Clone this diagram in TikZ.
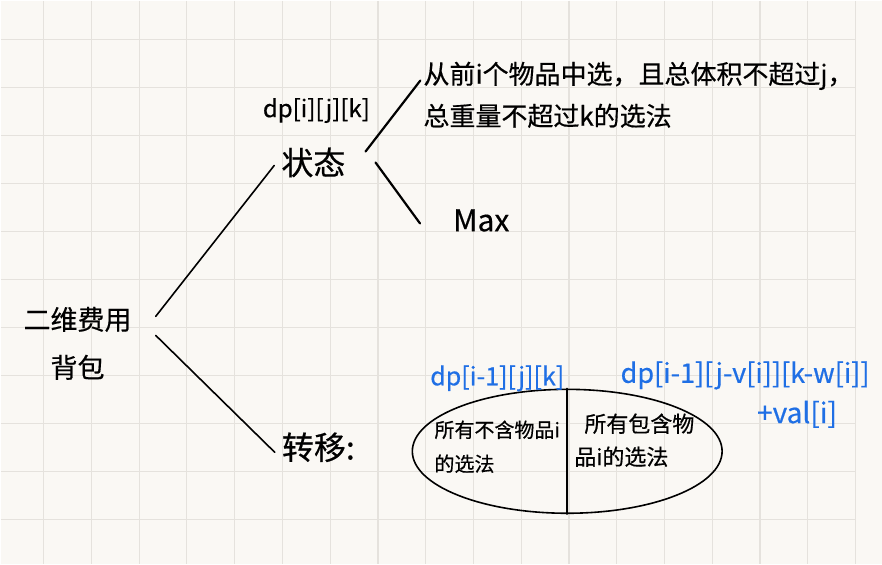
\documentclass[tikz,border=0pt]{standalone}
\usepackage{fontspec}
\usepackage{xcolor}
\newfontfamily\hand{Noto Sans CJK SC}[FakeBold=0.5]
\definecolor{paper}{HTML}{FAF8F4}
\definecolor{gridline}{HTML}{E5E2DD}
\definecolor{inkblue}{HTML}{1F6FE5}
\usetikzlibrary{calc,shapes.geometric}

\begin{document}
\begin{tikzpicture}[x=1pt,y=-1pt,
    ink/.style={line width=1.6pt,line cap=round},
    txt/.style={font=\hand,inner sep=2pt},
    note/.style={txt,text=inkblue}]

    % Paper
    \fill[paper] (0,0) rectangle (882,564);
    \foreach \i in {0,...,17}
      \draw[gridline,line width=1.2pt] ({43+47.8*\i},0) -- ({43+47.8*\i},564);
    \foreach \j in {0,...,10}
      \draw[gridline,line width=1.2pt] (0,{39+48*\j}) -- (855,{39+48*\j});

    % Root
    \node[txt,align=center,font=\hand\fontsize{27}{48}\selectfont] (root) at (77,343) {二维费用\\背包};

    % State
    \node[txt,font=\hand\fontsize{32}{36}\selectfont] (state) at (313,162) {状态};
    \node[txt,font=\hand\fontsize{24}{28}\selectfont] (dps) at (316,110) {dp[i][j][k]};
    \node[txt,align=left,anchor=north west,font=\hand\fontsize{26}{42}\selectfont] (desc) at (421,59)
      {从前i个物品中选，且总体积不超过j，\\总重量不超过k的选法};
    \node[txt,font=\hand\fontsize{30}{34}\selectfont] (max) at (481,220) {Max};

    % Transition
    \node[txt,font=\hand\fontsize{32}{36}\selectfont] (trans) at (318,447) {转移:};

    % Split of the choices
    \node[draw,ellipse,line width=1.6pt,minimum width=310pt,minimum height=124pt,inner sep=0pt] (split) at (567,451) {};
    \draw[ink] (split.north) -- (split.south);
    \node[txt,align=left,anchor=north west,font=\hand\fontsize{20}{34}\selectfont] (without) at (432,418)
      {所有不含物品i\\的选法};
    \node[txt,align=left,anchor=north west,font=\hand\fontsize{22}{33}\selectfont] (with) at (572,411)
      {\hspace{10pt}所有包含物\\品i的选法};

    % Blue notes
    \node[note,font=\hand\fontsize{25}{28}\selectfont] (prev) at (497,378) {dp[i-1][j][k]};
    \node[note,font=\hand\fontsize{27}{30}\selectfont] (take) at (745,375) {dp[i-1][j-v[i]][k-w[i]]};
    \node[note,font=\hand\fontsize{28}{30}\selectfont] (gain) at (797,414) {+val[i]};

    % Branches
    \draw[ink] ([xshift=22pt,yshift=27pt]root.east) -- ([xshift=-5pt,yshift=-3pt]state.west);
    \draw[ink] ([xshift=22pt,yshift=8pt]root.east) -- ([xshift=-5pt,yshift=-5pt]trans.west);
    \draw[ink,line width=2.2pt] ([xshift=18pt,yshift=11pt]state.east) -- ([xshift=-1pt,yshift=-21pt]desc.north west);
    \draw[ink,line width=2.2pt] ([xshift=28pt]state.east) -- ([xshift=-31pt,yshift=-3pt]max.west);

\end{tikzpicture}
\end{document}
